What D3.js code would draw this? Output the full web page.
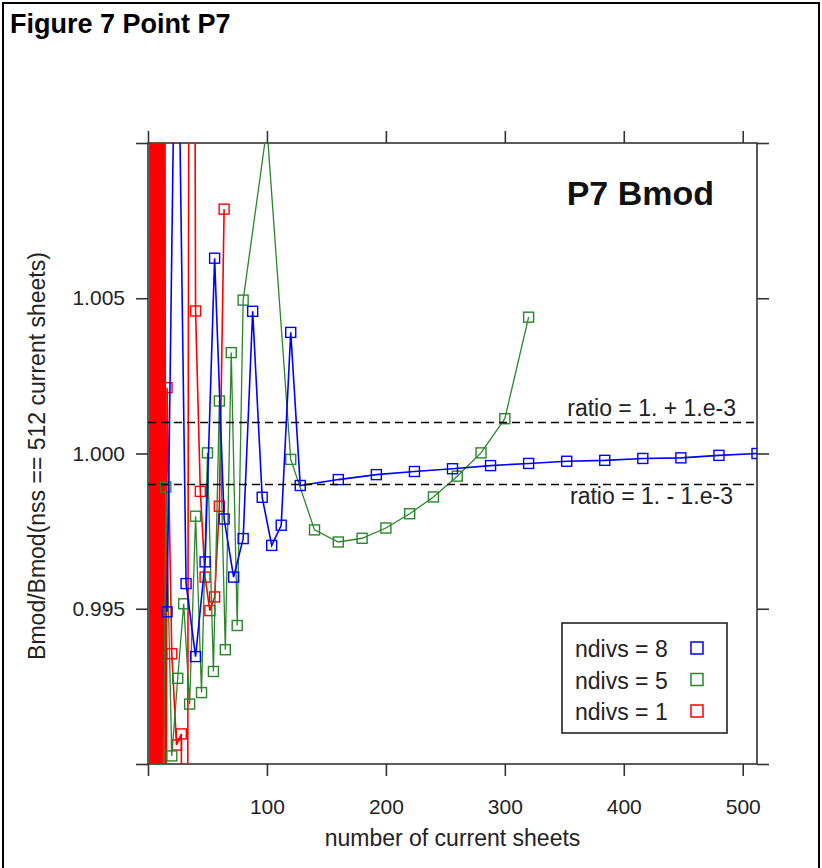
<!DOCTYPE html>
<html>
<head>
<meta charset="utf-8">
<script src="https://cdn.jsdelivr.net/npm/d3@7"></script>
<style>
  body { margin: 0; background: #fff; }
  svg { display: block; font-family: "Liberation Sans", Arial, sans-serif; }
</style>
</head>
<body>
<div id="main"></div>
<script>
// --- data
const blueX = [16, 24, 32, 40, 48, 56, 64, 72, 80, 88, 96, 104, 112, 120, 128,
  160, 192, 224, 256, 288, 320, 352, 384, 416, 448, 480, 512];
const blueY = [0.9949, 1.0182, 0.99581, 0.99346, 0.99651, 1.00629, 0.99789, 0.99602, 0.99726,
  1.00458, 0.99859, 0.99704, 0.99769, 1.0039, 0.99897,
  0.99916, 0.99932, 0.99942, 0.99951, 0.99961, 0.99968, 0.99975, 0.99978, 0.99984, 0.99986, 0.99994, 1.0];

const greenX = [10, 15, 20, 25, 30, 35, 40, 45, 50, 55, 60, 65, 70, 75, 80,
  100, 120, 140, 160, 180, 200, 220, 240, 260, 280, 300, 320];
const greenY = [0.975, 0.99892, 0.99026, 0.99276, 0.99516, 0.99193, 0.99798, 0.9923, 1.00002,
  0.99298, 1.00169, 0.99368, 1.00325, 0.99446, 1.00494,
  1.0105, 0.99981, 0.99754, 0.99715, 0.99727, 0.9976, 0.99806, 0.9986, 0.99927, 1.00002, 1.00112, 1.00439];

const redX = [1, 2, 3, 4, 5, 6, 7, 8, 9, 10, 11, 12, 13, 14, 15, 16,
  20, 24, 28, 32, 36, 40, 44, 48, 52, 56, 60, 64];
const redY = [0.70, 1.25, 0.80, 1.15, 0.88, 1.10, 0.92, 1.07, 0.95, 1.05, 0.965, 1.035, 0.975, 1.025, 0.98, 1.00212,
  0.99355, 0.99061, 0.99097, 0.95, 1.06, 1.00459, 0.99878, 0.99602, 0.99494, 0.99538, 0.9983, 1.00787];

const xTicks = [0, 100, 200, 300, 400, 500];
const yTicks = [0.990, 0.995, 1.000, 1.005, 1.010];
const yTickLabels = ['', '0.995', '1.000', '1.005', ''];
const refLines = [1.001, 0.999];
const refLabels = ['ratio = 1. + 1.e-3', 'ratio = 1. - 1.e-3'];
const legendLabels = ['ndivs = 8', 'ndivs = 5', 'ndivs = 1'];

const colors = { blue: '#0000ff', green: '#2a862a', red: '#ff0000' };

// --- layout
const width = 822, height = 868;
const margin = { left: 148, right: 65, top: 143, bottom: 104 };
const plotW = width - margin.left - margin.right;
const plotH = height - margin.top - margin.bottom;

const svg = d3.select('#main')
  .append('svg')
  .attr('width', width)
  .attr('height', height);

// outer figure border
svg.append('rect')
  .attr('x', 3).attr('y', 3)
  .attr('width', 816).attr('height', 870)
  .attr('fill', 'none')
  .attr('stroke', '#000')
  .attr('stroke-width', 2);

svg.append('text')
  .attr('x', 10).attr('y', 33)
  .attr('font-size', 27).attr('font-weight', 'bold')
  .text('Figure 7 Point P7');

const xScale = d3.scaleLinear().domain([0, 512]).range([0, plotW]);
const yScale = d3.scaleLinear().domain([0.990, 1.010]).range([plotH, 0]);

const g = svg.append('g')
  .attr('transform', `translate(${margin.left}, ${margin.top})`);

g.append('clipPath').attr('id', 'clip')
  .append('rect').attr('width', plotW).attr('height', plotH);

// axes, lattice style: ticks out on all four sides, labels bottom and left
function styleAxis(sel) {
  sel.select('.domain').remove();
  sel.selectAll('line').attr('stroke', '#333').attr('stroke-width', 1.6);
  sel.selectAll('text').attr('fill', '#222').attr('font-size', 21)
    .attr('font-family', '"Liberation Sans", Arial, sans-serif');
}

g.append('g')
  .attr('transform', `translate(0, ${plotH})`)
  .call(d3.axisBottom(xScale).tickValues(xTicks).tickSize(12).tickPadding(23)
    .tickFormat(d => d === 0 ? '' : d))
  .call(styleAxis);
g.append('g')
  .call(d3.axisTop(xScale).tickValues(xTicks).tickSize(12).tickFormat(''))
  .call(styleAxis);
g.append('g')
  .call(d3.axisLeft(yScale).tickValues(yTicks).tickSize(12).tickPadding(11)
    .tickFormat((d, i) => yTickLabels[i]))
  .call(styleAxis);
g.append('g')
  .attr('transform', `translate(${plotW}, 0)`)
  .call(d3.axisRight(yScale).tickValues(yTicks).tickSize(12).tickFormat(''))
  .call(styleAxis);

g.append('rect')
  .attr('width', plotW).attr('height', plotH)
  .attr('fill', 'none').attr('stroke', '#333').attr('stroke-width', 1.6);

// series, drawn red first so blue ends up on top
const series = [
  { xs: redX, ys: redY, color: colors.red, lw: 1.6 },
  { xs: greenX, ys: greenY, color: colors.green, lw: 1.3 },
  { xs: blueX, ys: blueY, color: colors.blue, lw: 1.6 }
];

const line = d3.line().x(d => xScale(d[0])).y(d => yScale(d[1]));
const marks = g.append('g').attr('clip-path', 'url(#clip)');

series.forEach(s => {
  const pts = s.xs.map((x, i) => [x, s.ys[i]]);
  marks.append('path')
    .datum(pts)
    .attr('fill', 'none')
    .attr('stroke', s.color)
    .attr('stroke-width', s.lw)
    .attr('d', line);
  marks.selectAll(null)
    .data(pts)
    .enter()
    .append('rect')
    .attr('x', d => xScale(d[0]) - 5)
    .attr('y', d => yScale(d[1]) - 5)
    .attr('width', 10).attr('height', 10)
    .attr('fill', 'none')
    .attr('stroke', s.color)
    .attr('stroke-width', 1.4);
});

// reference lines at 1 +/- 1e-3
g.selectAll('.ref')
  .data(refLines)
  .enter()
  .append('line')
  .attr('x1', 0).attr('x2', plotW)
  .attr('y1', d => yScale(d)).attr('y2', d => yScale(d))
  .attr('stroke', '#000').attr('stroke-width', 1.6)
  .attr('stroke-dasharray', '8,5');

g.selectAll('.reflabel')
  .data(refLabels)
  .enter()
  .append('text')
  .attr('x', (d, i) => i === 0 ? 588 : 585)
  .attr('y', (d, i) => i === 0 ? yScale(refLines[0]) - 6 : yScale(refLines[1]) + 19)
  .attr('text-anchor', 'end')
  .attr('font-size', 23)
  .attr('fill', '#222')
  .text(d => d);

g.append('text')
  .attr('x', 566).attr('y', 62)
  .attr('text-anchor', 'end')
  .attr('font-size', 34).attr('font-weight', 'bold')
  .attr('fill', '#111')
  .text('P7 Bmod');

// legend
const legend = g.append('g').attr('transform', `translate(${562 - margin.left}, ${623 - margin.top})`);
legend.append('rect')
  .attr('width', 165).attr('height', 110)
  .attr('fill', '#fff').attr('stroke', '#222').attr('stroke-width', 1.6);
const legendColors = [colors.blue, colors.green, colors.red];
legendLabels.forEach((lab, i) => {
  legend.append('text')
    .attr('x', 13).attr('y', 34 + i * 31.5)
    .attr('font-size', 23).attr('fill', '#222')
    .text(lab);
  legend.append('rect')
    .attr('x', 129).attr('y', 19 + i * 31.5)
    .attr('width', 12).attr('height', 12)
    .attr('fill', 'none').attr('stroke', legendColors[i]).attr('stroke-width', 1.5);
});

// axis titles
svg.append('text')
  .attr('x', margin.left + plotW / 2).attr('y', 846)
  .attr('text-anchor', 'middle').attr('font-size', 23).attr('fill', '#222')
  .text('number of current sheets');

svg.append('text')
  .attr('transform', 'translate(45, 456) rotate(-90)')
  .attr('text-anchor', 'middle').attr('font-size', 23).attr('fill', '#222')
  .text('Bmod/Bmod(nss == 512 current sheets)');
</script>
</body>
</html>
